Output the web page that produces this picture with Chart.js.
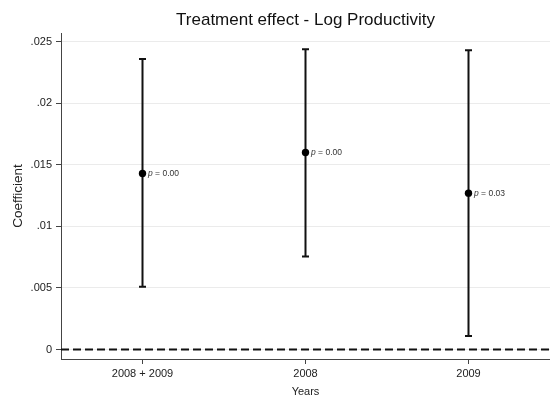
<!DOCTYPE html>
<html>
<head>
<meta charset="utf-8">
<script src="https://cdn.jsdelivr.net/npm/chart.js@4/dist/chart.umd.min.js"></script>
<style>
  html, body { margin: 0; padding: 0; background: #ffffff; }
  #wrap { width: 550px; height: 396px; }
</style>
</head>
<body>
<div id="wrap"><canvas id="c" width="550" height="396"></canvas></div>
<script>
// ---- data ----
const categories = ['2008 + 2009', '2008', '2009'];
const coef      = [0.0143, 0.0160, 0.0127];
const ciLow     = [0.0051, 0.00755, 0.0011];
const ciHigh    = [0.0236, 0.0244, 0.0243];
const pValues   = ['0.00', '0.00', '0.03'];
const yTicks      = [0, 0.005, 0.01, 0.015, 0.02, 0.025];
const yTickLabels = ['0', '.005', '.01', '.015', '.02', '.025'];
const referenceLine = 0;
const yMin = -0.00077;
const yMax = 0.02571;

const FONT = 'Arial, "Liberation Sans", Helvetica, sans-serif';

const errorBarPlugin = {
  id: 'errorBars',
  beforeDatasetsDraw(chart) {
    const {ctx, chartArea, scales} = chart;
    const xs = scales.x, ys = scales.y;
    ctx.save();
    // dashed reference line at zero
    const y0 = ys.getPixelForValue(referenceLine);
    ctx.beginPath();
    ctx.setLineDash([8, 4]);
    ctx.lineWidth = 2;
    ctx.strokeStyle = '#111';
    ctx.moveTo(chartArea.left, y0);
    ctx.lineTo(chartArea.right, y0);
    ctx.stroke();
    ctx.setLineDash([]);
    // error bars
    ctx.lineWidth = 2;
    ctx.strokeStyle = '#111';
    for (let i = 0; i < categories.length; i++) {
      const x = xs.getPixelForValue(i);
      const yl = ys.getPixelForValue(ciLow[i]);
      const yh = ys.getPixelForValue(ciHigh[i]);
      ctx.beginPath();
      ctx.moveTo(x, yl); ctx.lineTo(x, yh);
      ctx.moveTo(x - 3.5, yl); ctx.lineTo(x + 3.5, yl);
      ctx.moveTo(x - 3.5, yh); ctx.lineTo(x + 3.5, yh);
      ctx.stroke();
    }
    ctx.restore();
  },
  afterDatasetsDraw(chart) {
    const {ctx, scales} = chart;
    ctx.save();
    ctx.fillStyle = '#333';
    ctx.textBaseline = 'middle';
    ctx.textAlign = 'left';
    for (let i = 0; i < categories.length; i++) {
      const x = scales.x.getPixelForValue(i) + 5.5;
      const y = scales.y.getPixelForValue(coef[i]);
      ctx.font = 'italic 8.5px ' + FONT;
      ctx.fillText('p', x, y);
      const w = ctx.measureText('p').width;
      ctx.font = '8.5px ' + FONT;
      ctx.fillText(' = ' + pValues[i], x + w, y);
    }
    ctx.restore();
  }
};

new Chart(document.getElementById('c'), {
  type: 'line',
  data: {
    labels: categories,
    datasets: [{
      data: coef,
      showLine: false,
      pointRadius: 3.7,
      pointHoverRadius: 3.7,
      pointBackgroundColor: '#000',
      pointBorderColor: '#000',
      pointBorderWidth: 0,
      borderColor: '#000',
      clip: false
    }]
  },
  options: {
    responsive: false,
    animation: false,
    events: [],
    layout: { padding: 0, autoPadding: false },
    plugins: { legend: { display: false }, tooltip: { enabled: false }, title: { display: false } },
    scales: {
      x: {
        type: 'category',
        position: 'bottom',
        offset: true,
        grid: { display: true, drawOnChartArea: false, drawTicks: true, tickLength: 5, tickColor: '#444', offset: false },
        border: { display: true, color: '#444', width: 1 },
        ticks: { color: '#222', font: { family: FONT, size: 11 }, padding: 3, maxRotation: 0, autoSkip: false },
        title: { display: true, text: 'Years', color: '#222', font: { family: FONT, size: 11 }, padding: { top: 0, bottom: -2.6 } },
        afterFit(scale) { scale.height = 37; }
      },
      titleAxis: {
        axis: 'x',
        type: 'linear',
        position: 'top',
        display: true,
        grid: { display: false, drawTicks: false },
        border: { display: false },
        ticks: { display: false },
        title: { display: true, text: 'Treatment effect - Log Productivity', color: '#111', font: { family: FONT, size: 17 }, padding: { top: 10.3, bottom: 0 } },
        afterFit(scale) { scale.height = 33; }
      },
      y: {
        type: 'linear',
        position: 'left',
        min: yMin,
        max: yMax,
        afterBuildTicks(scale) { scale.ticks = yTicks.map(v => ({ value: v })); },
        grid: { color: '#ebebeb', lineWidth: 1, drawTicks: true, tickLength: 5, tickColor: '#444' },
        border: { display: true, color: '#444', width: 1 },
        ticks: {
          color: '#222',
          font: { family: FONT, size: 11 },
          padding: 4,
          callback: (v, i) => yTickLabels[i]
        },
        title: { display: true, text: 'Coefficient', color: '#222', font: { family: FONT, size: 13.5 }, padding: { top: 9.9, bottom: 0 } },
        afterFit(scale) { scale.width = 61; }
      }
    }
  },
  plugins: [errorBarPlugin]
});
</script>
</body>
</html>
